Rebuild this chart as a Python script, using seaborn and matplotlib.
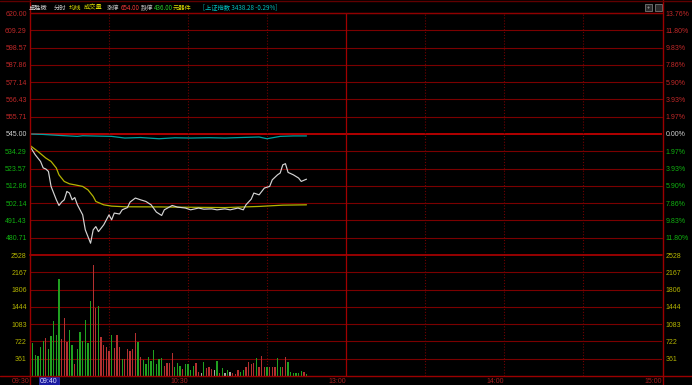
import numpy as np
import pandas as pd
import matplotlib
matplotlib.use("Agg")
import matplotlib.pyplot as plt
from matplotlib.lines import Line2D
from matplotlib.patches import Rectangle
import matplotlib.transforms as mtransforms
import seaborn as sns

# ---------------- data ----------------
prev_close = 545.00

price_minutes = [0, 2, 4, 5, 6, 7, 8, 10, 11, 12, 13, 14, 15, 16, 17, 18, 20, 21, 23, 24,
                 25, 26, 28, 30, 31, 32, 34, 35, 37, 38, 40, 42, 44, 46, 48, 50, 51, 54, 56, 59,
                 61, 64, 66, 69, 71, 74, 76, 79, 81, 82, 84, 85, 87, 88, 89, 91, 92, 94, 95, 96,
                 97, 98, 100, 102, 103, 105]
prices = [537.3, 532.1, 528.0, 524.0, 523.3, 521.8, 512.5, 504.2, 500.7, 502.8, 504.2, 509.4,
          508.4, 504.2, 505.6, 501.1, 494.9, 485.6, 477.3, 485.6, 487.6, 484.5, 488.7, 494.9,
          491.8, 496.0, 495.4, 498.0, 499.4, 502.8, 505.3, 504.2, 503.2, 501.1, 496.6, 494.5,
          498.0, 500.7, 499.7, 499.1, 498.0, 499.1, 498.4, 498.6, 498.0, 498.6, 498.0, 499.1,
          498.0, 501.1, 504.6, 508.4, 507.3, 509.4, 511.5, 512.5, 516.6, 519.7, 520.8, 525.9,
          526.6, 521.2, 519.7, 517.7, 515.6, 517.0]

avg_minutes = [0, 3, 6, 8, 10, 11, 13, 15, 17, 20, 22, 24, 25, 28, 31, 36, 50, 54, 74, 87, 96, 105]
avg_prices = [537.9, 534.2, 530.1, 528.0, 523.9, 519.7, 515.6, 514.1, 513.5, 512.5, 510.4,
              506.3, 503.2, 501.1, 500.3, 499.9, 499.8, 499.7, 499.4, 500.1, 500.9, 501.1]

index_minutes = [0, 5, 11, 18, 20, 26, 31, 36, 42, 49, 55, 61, 68, 74, 80, 87, 90, 95, 100, 105]
index_pcts = [0.00, -0.05, -0.16, -0.27, -0.20, -0.24, -0.27, -0.46, -0.40, -0.54, -0.43,
              -0.46, -0.42, -0.46, -0.40, -0.34, -0.54, -0.27, -0.22, -0.22]

vol_minutes = list(range(1, 106))
volumes = [697, 439, 418, 599, 738, 787, 557, 836, 1149, 857,
           2027, 766, 1219, 717, 961, 648, 251, 557, 926, 738,
           1170, 697, 1567, 2320, 1414, 1463, 808, 648, 599, 529,
           857, 578, 857, 599, 348, 348, 557, 529, 557, 906,
           717, 404, 334, 251, 390, 320, 543, 251, 348, 369,
           209, 265, 279, 474, 181, 265, 209, 153, 251, 251,
           125, 209, 265, 91, 70, 300, 160, 181, 139, 125,
           314, 70, 160, 56, 125, 84, 56, 42, 125, 91,
           125, 181, 300, 251, 279, 369, 181, 418, 181, 181,
           181, 195, 195, 369, 181, 181, 390, 300, 91, 70,
           56, 70, 111, 91, 35]
vol_dirs = ["down", "down", "down", "down", "down", "up", "down", "down", "down", "down",
            "down", "up", "up", "up", "down", "down", "up", "down", "down", "down",
            "down", "down", "down", "up", "up", "down", "up", "up", "up", "up",
            "down", "up", "up", "up", "down", "up", "up", "up", "up", "up",
            "down", "up", "down", "down", "down", "down", "down", "down", "down", "down",
            "up", "up", "up", "up", "down", "down", "down", "up", "down", "down",
            "down", "down", "up", "up", "flat", "down", "up", "up", "up", "flat",
            "down", "up", "down", "flat", "down", "flat", "up", "up", "up", "down",
            "down", "up", "up", "up", "up", "down", "up", "up", "up", "down",
            "up", "up", "up", "down", "down", "up", "up", "down", "down", "down",
            "down", "down", "down", "up", "down"]

price_ticks = [620.00, 609.29, 598.57, 587.86, 577.14, 566.43, 555.71, 545.00,
               534.29, 523.57, 512.86, 502.14, 491.43, 480.71]
price_labels = ["620.00", "609.29", "598.57", "587.86", "577.14", "566.43", "555.71", "545.00",
                "534.29", "523.57", "512.86", "502.14", "491.43", "480.71"]
pct_labels = ["13.76%", "11.80%", "9.83%", "7.86%", "5.90%", "3.93%", "1.97%", "0.00%",
              "1.97%", "3.93%", "5.90%", "7.86%", "9.83%", "11.80%"]
vol_ticks = [361, 722, 1083, 1444, 1806, 2167, 2528]
vol_labels = ["361", "722", "1083", "1444", "1806", "2167", "2528"]
time_ticks = [0, 60, 120, 180, 240]
time_labels = ["09:30", "10:30", "13:00", "14:00", "15:00"]
cursor_minute = 10
cursor_label = "09:40"

header = [("卓胜微", "#d8d8d8", 29), ("分时", "#cccccc", 54), ("均线", "#d8d800", 69),
          ("成交量", "#d8d800", 84), ("涨停", "#c0c0c0", 107), ("654.00", "#f03838", 121),
          ("跌停", "#c0c0c0", 141), ("436.00", "#28d028", 154), ("元器件", "#d8d800", 173),
          ("[上证指数 3438.28 -0.29%]", "#00c4c4", 203)]

# ---------------- style ----------------
sns.set_style("dark")
plt.rcParams["font.family"] = ["Liberation Sans", "DejaVu Sans"]

W, H = 692, 385
fig = plt.figure(figsize=(W / 100, H / 100), dpi=100, facecolor="black")

GRID = "#7a0000"
BRIGHT = "#c00000"
BORDER = "#9a0000"

ax = fig.add_axes([30 / W, 1 - 255 / H, 632 / W, 242 / H])
axv = fig.add_axes([30 / W, 1 - 376 / H, 632 / W, 121 / H])
for a in (ax, axv):
    a.set_facecolor("black")
    for s in a.spines.values():
        s.set_visible(False)
    a.grid(False)
    a.set_xlim(0, 240)

ax.set_ylim(470, 620)
axv.set_ylim(0, 2528)

# grid lines
for t in price_ticks:
    if t == prev_close:
        ax.axhline(t, color=BRIGHT, lw=1.3, zorder=1)
    else:
        ax.axhline(t, color=GRID, lw=0.8, zorder=1, clip_on=False)
for t in vol_ticks:
    if t == vol_ticks[-1]:
        axv.axhline(t, color="#b00000", lw=1.2, zorder=1, clip_on=False)
    else:
        axv.axhline(t, color=GRID, lw=0.8, zorder=1)
for a in (ax, axv):
    for m in [30, 60, 90, 150, 180, 210]:
        a.axvline(m, color="#700000", lw=0.8, ls=(0, (1, 1.6)), zorder=1)
    a.axvline(120, color="#a00000", lw=0.9, zorder=1)

# lines
sns.lineplot(x=index_minutes, y=[prev_close * (1 + p / 100) for p in index_pcts], ax=ax,
             color="#00a0a0", linewidth=0.9, estimator=None, sort=False, zorder=3)
sns.lineplot(x=avg_minutes, y=avg_prices, ax=ax, color="#b4b400", linewidth=0.9,
             estimator=None, sort=False, zorder=3)
sns.lineplot(x=price_minutes, y=prices, ax=ax, color="#d4d4d4", linewidth=0.85,
             estimator=None, sort=False, zorder=4)

# volume bars
df = pd.DataFrame({"minute": vol_minutes, "volume": volumes, "dir": vol_dirs})
sns.barplot(data=df, x="minute", y="volume", hue="dir",
            palette={"up": "#b43030", "down": "#20a020", "flat": "#a8a8a8"},
            native_scale=True, dodge=False, width=0.5, saturation=1, errorbar=None,
            legend=False, linewidth=0, edgecolor="none", ax=axv, zorder=3)
axv.set_xlim(0, 240)
axv.set_ylim(0, 2528)

# ticks / labels
ax.set_yticks(price_ticks)
ax.set_yticklabels(price_labels)
ax.set_xticks([])
ax.set_xlabel("")
ax.set_ylabel("")
ax.tick_params(axis="y", length=0, labelsize=5, pad=2.3)
axr = ax.twinx()
axr.set_ylim(ax.get_ylim())
axr.set_yticks(price_ticks)
axr.set_yticklabels(pct_labels)
axr.tick_params(axis="y", length=0, labelsize=5, pad=2.6)
for s in axr.spines.values():
    s.set_visible(False)
axr.grid(False)

def col_for(t):
    if t > prev_close:
        return "#c02828"
    if t < prev_close:
        return "#10b010"
    return "#d0d0d0"

for lab, t in zip(ax.get_yticklabels(), price_ticks):
    lab.set_color(col_for(t))
for lab, t in zip(axr.get_yticklabels(), price_ticks):
    lab.set_color(col_for(t))

axv.set_yticks(vol_ticks)
axv.set_yticklabels(vol_labels)
axv.tick_params(axis="y", length=0, labelsize=5, pad=2.3, labelcolor="#b4b400")
axv.set_xticks(time_ticks)
axv.set_xticklabels(time_labels, ha="right")
axv.tick_params(axis="x", length=0, labelsize=5, pad=1.6, labelcolor="#a82020")
axv.set_xlabel("")
axv.set_ylabel("")
axvr = axv.twinx()
axvr.set_ylim(0, 2528)
axvr.set_yticks(vol_ticks)
axvr.set_yticklabels(vol_labels)
axvr.tick_params(axis="y", length=0, labelsize=5, pad=2.6, labelcolor="#b4b400")
for s in axvr.spines.values():
    s.set_visible(False)
axvr.grid(False)

# cursor time label
trans = mtransforms.blended_transform_factory(axv.transData, axv.transAxes)
axv.text(cursor_minute + 0.5, -0.02, cursor_label, transform=trans, ha="right", va="top",
         fontsize=5, color="#e0e0ff",
         bbox=dict(boxstyle="square,pad=0.2", facecolor="#1a1aa0", edgecolor="#3030c0", lw=0.5))

# frame lines (figure-level decoration)
def fline(x0, y0, x1, y1, color, lw=1.0):
    fig.add_artist(Line2D([x0 / W, x1 / W], [1 - y0 / H, 1 - y1 / H], color=color, lw=lw))

fline(29.5, 0, 29.5, H, BORDER)
fline(662.5, 0, 662.5, H, BORDER)
fline(0, 376, W, 376, BORDER)
fline(0, 0.7, W, 0.7, "#600000")
fline(30, 13, 662, 13, "#900000")

# header
for txt, c, x in header:
    fig.text(x / W, 1 - 7.5 / H, txt, ha="left", va="center", fontsize=4.5, color=c,
             family=["Noto Sans CJK SC", "DejaVu Sans"])

# window icons
for x0 in (645, 655):
    fig.add_artist(Rectangle((x0 / W, 1 - 10.5 / H), 6.5 / W, 6.5 / H, facecolor="#2a2a2a",
                             edgecolor="#8a8a8a", lw=0.5))
fig.text(648.3 / W, 1 - 7.3 / H, "+", ha="center", va="center", fontsize=4, color="#c0c0c0")

fig.savefig("out.png", dpi=100, facecolor="black")
